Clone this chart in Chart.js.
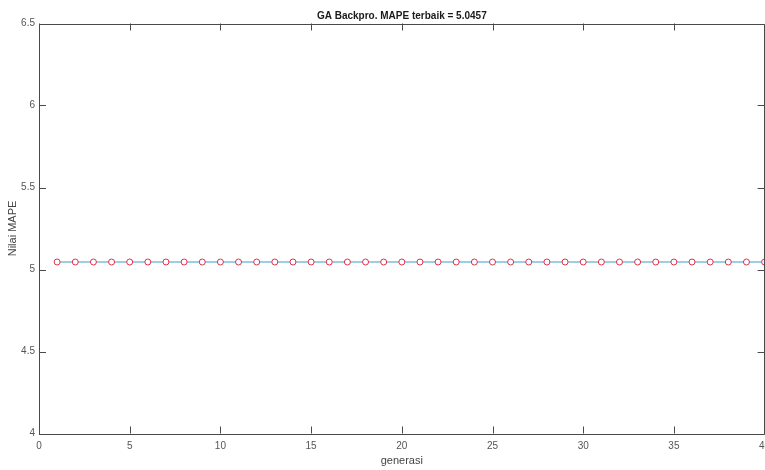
<!DOCTYPE html>
<html>
<head>
<meta charset="utf-8">
<style>
  html, body { margin: 0; padding: 0; background: #ffffff; overflow: hidden; }
  canvas { display: block; }
</style>
<script src="https://cdn.jsdelivr.net/npm/chart.js@4/dist/chart.umd.min.js"></script>
</head>
<body>
<canvas id="c" width="765" height="470"></canvas>
<script>
const chartTitle = 'GA Backpro. MAPE terbaik = 5.0457';
const xLabel = 'generasi';
const yLabel = 'Nilai MAPE';
const generasi = [1,2,3,4,5,6,7,8,9,10,11,12,13,14,15,16,17,18,19,20,
                  21,22,23,24,25,26,27,28,29,30,31,32,33,34,35,36,37,38,39,40];
const mape = [5.0457,5.0457,5.0457,5.0457,5.0457,5.0457,5.0457,5.0457,5.0457,5.0457,
              5.0457,5.0457,5.0457,5.0457,5.0457,5.0457,5.0457,5.0457,5.0457,5.0457,
              5.0457,5.0457,5.0457,5.0457,5.0457,5.0457,5.0457,5.0457,5.0457,5.0457,
              5.0457,5.0457,5.0457,5.0457,5.0457,5.0457,5.0457,5.0457,5.0457,5.0457];
const xTicks = [0,5,10,15,20,25,30,35,40];
const yTicks = [4,4.5,5,5.5,6,6.5];

const FONT = 'Arial, "Liberation Sans", Helvetica, sans-serif';
const AXIS = '#4a4a4a';
const TICKLEN = 7;

const boxPlugin = {
  id: 'matlabBox',
  afterDraw(chart) {
    const {ctx, chartArea: a, scales: {x, y}} = chart;
    ctx.save();
    ctx.lineWidth = 1;
    ctx.strokeStyle = AXIS;
    // ticks (inward, all four sides)
    ctx.beginPath();
    xTicks.forEach(v => {
      const px = Math.round(x.getPixelForValue(v)) + 0.5;
      ctx.moveTo(px, a.bottom); ctx.lineTo(px, a.bottom - TICKLEN);
      ctx.moveTo(px, a.top); ctx.lineTo(px, a.top + TICKLEN);
    });
    yTicks.forEach(v => {
      const py = Math.round(y.getPixelForValue(v)) + 0.5;
      ctx.moveTo(a.left, py); ctx.lineTo(a.left + TICKLEN, py);
      ctx.moveTo(a.right, py); ctx.lineTo(a.right - TICKLEN, py);
    });
    ctx.stroke();
    // box
    ctx.beginPath();
    const l = Math.round(a.left) + 0.5, r = Math.round(a.right) - 0.5;
    const t = Math.round(a.top) + 0.5, b = Math.round(a.bottom) + 0.5;
    ctx.moveTo(l, t); ctx.lineTo(r, t); ctx.lineTo(r, b); ctx.lineTo(l, b); ctx.closePath();
    ctx.stroke();
    // x tick labels (the last one runs off the page, as in the original)
    ctx.fillStyle = '#555555';
    ctx.font = '10px ' + FONT;
    ctx.textAlign = 'center';
    ctx.textBaseline = 'middle';
    xTicks.forEach(v => {
      ctx.fillText(String(v), x.getPixelForValue(v), 446.5);
    });
    // title centred over the axes
    ctx.fillStyle = '#1a1a1a';
    ctx.font = 'bold 10px ' + FONT;
    ctx.textAlign = 'center';
    ctx.textBaseline = 'alphabetic';
    ctx.fillText(chartTitle, (a.left + a.right) / 2, 19);
    ctx.restore();
  }
};

new Chart(document.getElementById('c'), {
  type: 'line',
  data: {
    datasets: [{
      data: generasi.map((g, i) => ({x: g, y: mape[i]})),
      borderColor: '#3a9fc8',
      borderWidth: 1,
      pointRadius: 3,
      pointBorderColor: '#e0304c',
      pointBackgroundColor: '#ffffff',
      pointBorderWidth: 1,
      tension: 0,
      fill: false
    }]
  },
  options: {
    responsive: false,
    animation: false,
    devicePixelRatio: 1,
    layout: { autoPadding: false, padding: { top: 23.5, right: 0.4, bottom: 0, left: 0 } },
    plugins: { legend: { display: false }, title: { display: false }, tooltip: { enabled: false } },
    scales: {
      x: {
        type: 'linear',
        min: 0, max: 40,
        afterBuildTicks(s) { s.ticks = xTicks.map(v => ({value: v})); },
        afterFit(s) { s.height = 36.5; s.paddingLeft = 0; s.paddingRight = 0; },
        grid: { display: false, drawTicks: false },
        border: { display: false },
        ticks: { display: false },
        title: { display: true, text: xLabel, color: '#444444', font: { family: FONT, size: 11 },
                 padding: { top: 0, bottom: 2.5 } }
      },
      y: {
        type: 'linear',
        min: 4, max: 6.5,
        afterBuildTicks(s) { s.ticks = yTicks.map(v => ({value: v})); },
        afterFit(s) { s.width = 39; s.paddingTop = 0; s.paddingBottom = 0; },
        grid: { display: false, drawTicks: false },
        border: { display: false },
        ticks: { color: '#555555', font: { family: FONT, size: 10 }, padding: 4, autoSkip: false,
                 callback: v => String(v) },
        title: { display: true, text: yLabel, color: '#444444', font: { family: FONT, size: 11 },
                 padding: { top: 6, bottom: 0 } }
      }
    }
  },
  plugins: [boxPlugin]
});
</script>
</body>
</html>
